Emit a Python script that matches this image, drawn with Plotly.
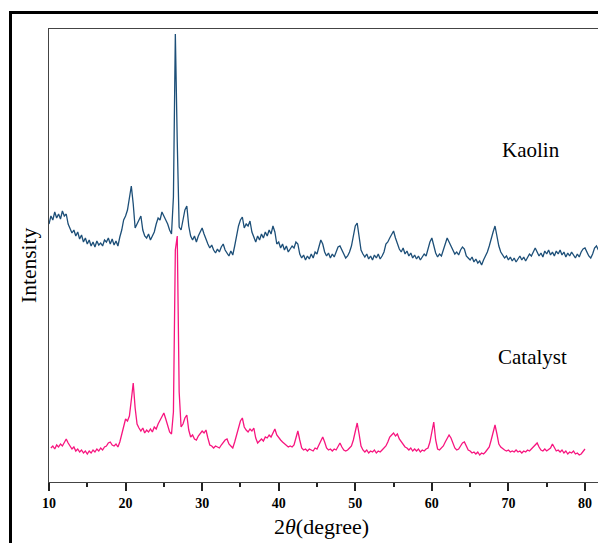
import plotly.graph_objects as go

# --- data (intensity in arbitrary units) ---
kaolin_start = 10.0
catalyst_start = 10.25
step = 0.25

kaolin = [
    258, 266, 262, 270, 264, 268, 263, 271, 266, 268, 258, 254, 249, 252, 246, 250, 243, 247, 240, 244,
    238, 242, 236, 240, 235, 241, 237, 239, 236, 242, 240, 244, 238, 243, 237, 241, 236, 245, 252, 262,
    266, 272, 284, 296, 278, 254, 258, 262, 266, 252, 246, 244, 248, 242, 246, 250, 258, 264, 262, 270,
    266, 262, 258, 252, 248, 285, 448, 340, 255, 252, 262, 272, 276, 256, 246, 242, 246, 240, 246, 250,
    254, 248, 242, 238, 234, 237, 232, 229, 233, 230, 235, 238, 232, 229, 226, 231, 227, 236, 246, 256,
    262, 265, 254, 258, 256, 261, 250, 244, 240, 246, 242, 248, 244, 250, 246, 252, 248, 256, 250, 238,
    240, 234, 238, 232, 236, 230, 233, 236, 234, 240, 238, 228, 224, 227, 222, 226, 223, 228, 224, 230,
    228, 236, 242, 238, 230, 226, 229, 224, 228, 225, 230, 235, 236, 232, 227, 224, 226, 230, 236, 245,
    256, 259, 246, 232, 228, 225, 228, 223, 226, 222, 227, 224, 228, 223, 226, 230, 238, 240, 244, 248,
    251, 244, 238, 233, 230, 234, 228, 231, 226, 229, 224, 227, 223, 226, 222, 225, 228, 226, 234, 240,
    244, 236, 229, 225, 228, 226, 232, 238, 244, 240, 236, 233, 228, 230, 227, 232, 235, 233, 226, 224,
    222, 225, 220, 223, 219, 221, 217, 222, 226, 230, 236, 244, 250, 256, 246, 236, 230, 227, 224, 226,
    222, 225, 221, 224, 220, 223, 226, 222, 225, 221, 224, 228, 226, 231, 234, 230, 226, 229, 225, 231,
    228, 232, 227, 230, 226, 231, 228, 232, 227, 230, 225, 229, 226, 230, 227, 224, 228, 225, 230, 233,
    234, 229, 226, 224, 228, 234, 236, 232,
]

catalyst = [
    34, 36, 33, 37, 35, 38, 36, 40, 43, 39, 36, 33, 35, 31, 33, 30, 32, 29, 31, 28,
    31, 29, 32, 30, 33, 31, 34, 32, 35, 36, 39, 40, 37, 36, 38, 35, 40, 48, 58, 63,
    61, 66, 82, 99, 74, 58, 54, 51, 54, 49, 52, 50, 53, 50, 55, 53, 58, 62, 66, 69,
    63, 57, 50, 48, 70, 232, 246, 90, 55, 58, 64, 67, 52, 45, 47, 43, 42, 46, 48, 51,
    49, 52, 44, 37, 36, 34, 36, 35, 34, 37, 40, 42, 43, 38, 36, 34, 40, 48, 56, 61,
    64, 55, 52, 50, 53, 51, 54, 44, 39, 41, 43, 41, 45, 44, 47, 45, 50, 53, 47, 44,
    42, 40, 38, 37, 35, 36, 35, 37, 44, 51, 42, 34, 32, 33, 31, 33, 32, 31, 34, 33,
    37, 42, 45, 40, 34, 32, 33, 31, 33, 32, 36, 39, 35, 32, 31, 32, 34, 36, 42, 52,
    59, 48, 36, 32, 30, 32, 29, 31, 30, 32, 29, 31, 30, 32, 34, 36, 40, 45, 47, 49,
    46, 48, 43, 40, 37, 35, 34, 32, 34, 31, 33, 31, 33, 30, 32, 31, 33, 34, 40, 52,
    60, 42, 33, 32, 34, 36, 40, 44, 47, 44, 38, 34, 32, 33, 36, 39, 40, 35, 32, 31,
    29, 30, 28, 30, 27, 29, 28, 30, 32, 35, 42, 50, 57, 48, 38, 35, 33, 32, 31, 32,
    30, 31, 30, 32, 30, 31, 29, 31, 30, 32, 31, 33, 35, 38, 39, 35, 32, 31, 33, 31,
    33, 34, 38, 35, 31, 32, 30, 32, 29, 31, 28, 30, 29, 31, 28, 29, 27, 28, 30, 33,
]

x_kaolin = [kaolin_start + step * i for i in range(len(kaolin))]
x_catalyst = [catalyst_start + step * i for i in range(len(catalyst))]

series_names = ["Kaolin", "Catalyst"]
x_ticks = [10, 20, 30, 40, 50, 60, 70, 80]

SERIF = "Liberation Serif, Times New Roman, serif"

fig = go.Figure()
fig.add_trace(go.Scatter(x=x_kaolin, y=kaolin, mode="lines", name=series_names[0],
                         line=dict(color="#1d4f78", width=1.3), showlegend=False))
fig.add_trace(go.Scatter(x=x_catalyst, y=catalyst, mode="lines", name=series_names[1],
                         line=dict(color="#f7157f", width=1.3), showlegend=False))

# page body has an 8px margin; figure is placed at (8, 8) in the window
OFF = 8
W, H = 598, 535
L, T = 41, 21
pw, ph = 549, 453
R = W - L - pw
B = H - T - ph

def px(xp):
    return (xp - OFF - L) / pw

def py(yp):
    return (T + ph - (yp - OFF)) / ph

fig.update_layout(
    width=W, height=H,
    margin=dict(l=L, r=R, t=T, b=B, pad=0),
    paper_bgcolor="white", plot_bgcolor="white",
    font=dict(family=SERIF, color="black"),
    xaxis=dict(range=[10, 81.7], tickvals=x_ticks, ticks="outside", ticklen=8, tickwidth=1.5,
               tickcolor="#222", showline=True, linecolor="#444", linewidth=1.2, mirror=True,
               showgrid=False, zeroline=False,
               tickfont=dict(family=SERIF, size=14, color="black", weight="bold"),
               minor=dict(tickvals=[15, 25, 35, 45, 55, 65, 75], ticks="outside", ticklen=4,
                          tickwidth=1.5, tickcolor="#222")),
    yaxis=dict(range=[0, 453], showticklabels=False, ticks="", showline=True, linecolor="#444",
               linewidth=1.2, mirror=True, showgrid=False, zeroline=False),
    shapes=[dict(type="rect", xref="paper", yref="paper",
                 x0=px(10.5), x1=px(640), y0=py(580), y1=py(12.5),
                 line=dict(color="black", width=3), fillcolor="rgba(0,0,0,0)")],
    annotations=[
        dict(text="2<i>θ</i>(degree)", xref="paper", yref="paper", x=px(321), y=py(526),
             showarrow=False, font=dict(family=SERIF, size=22, color="black"),
             xanchor="center", yanchor="middle"),
        dict(text="Intensity", xref="paper", yref="paper", x=px(29), y=py(265),
             showarrow=False, textangle=-90, font=dict(family=SERIF, size=21.5, color="black"),
             xanchor="center", yanchor="middle"),
        dict(text=series_names[0], xref="paper", yref="paper", x=px(531), y=py(150),
             showarrow=False, font=dict(family=SERIF, size=21, color="black"),
             xanchor="center", yanchor="middle"),
        dict(text=series_names[1], xref="paper", yref="paper", x=px(532), y=py(357),
             showarrow=False, font=dict(family=SERIF, size=21, color="black"),
             xanchor="center", yanchor="middle"),
    ],
)

fig.write_html("out.html")
